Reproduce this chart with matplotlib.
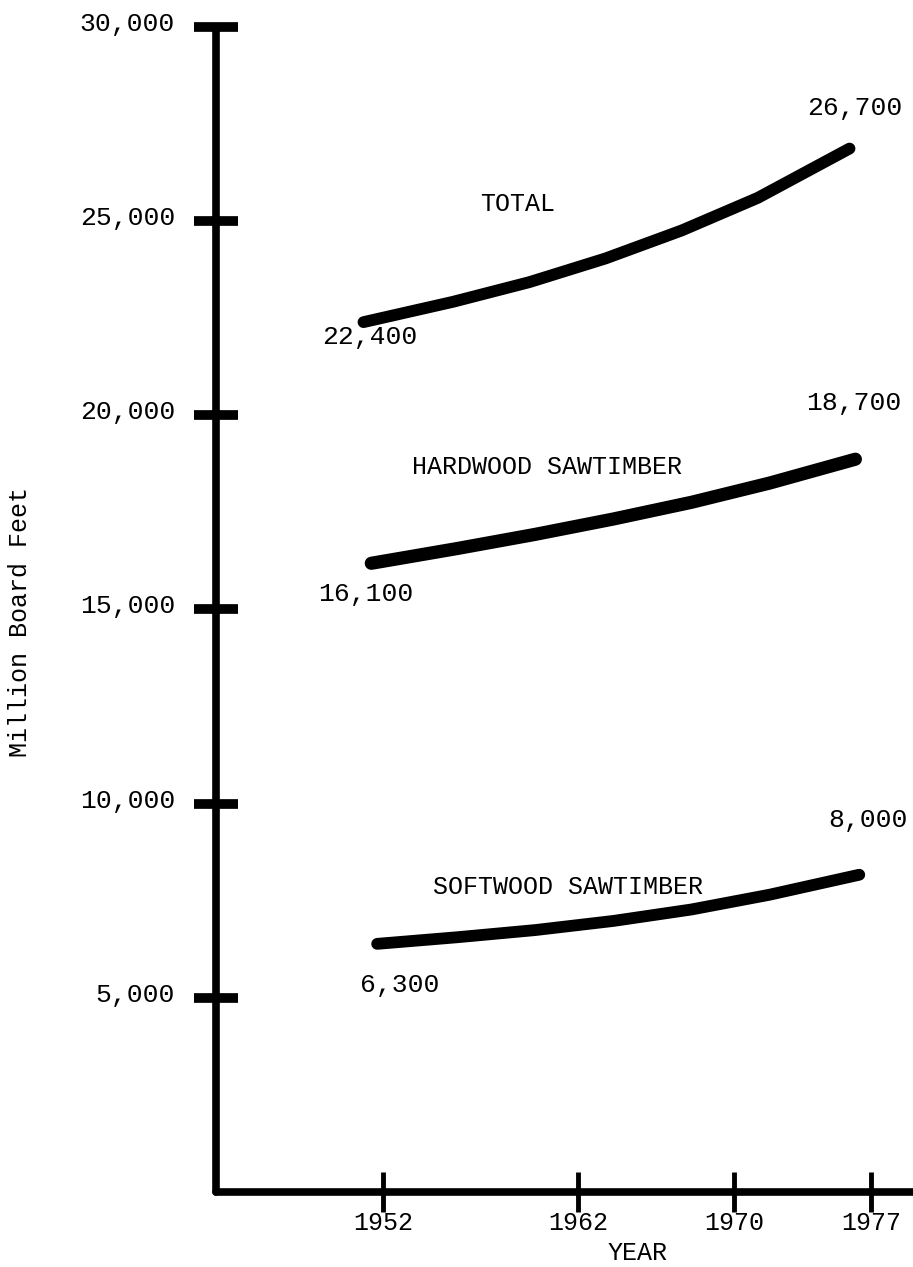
import matplotlib
matplotlib.use("Agg")
import matplotlib.pyplot as plt
from matplotlib.transforms import ScaledTranslation

# ---------------- data ----------------
tick_years = [1952, 1962, 1970, 1977]
y_ticks = [5000, 10000, 15000, 20000, 25000, 30000]

total_years = [1951.0, 1955.6, 1959.5, 1963.4, 1967.3, 1971.2, 1975.9]
total_vals = [22400, 22925, 23430, 24040, 24760, 25600, 26870]

hard_years = [1951.4, 1955.8, 1959.8, 1963.8, 1967.8, 1971.8, 1976.2]
hard_vals = [16190, 16570, 16935, 17330, 17760, 18255, 18870]

soft_years = [1951.7, 1955.8, 1959.8, 1963.8, 1967.8, 1971.8, 1976.4]
soft_vals = [6390, 6560, 6745, 6980, 7275, 7655, 8170]

series_names = ["TOTAL", "HARDWOOD SAWTIMBER", "SOFTWOOD SAWTIMBER"]
start_labels = [22400, 16100, 6300]
end_labels = [26700, 18700, 8000]

# ---------------- figure ----------------
W, H = 913, 1267
FONT = "Liberation Mono"
plt.rcParams["font.family"] = [FONT, "DejaVu Sans Mono"]

fig = plt.figure(figsize=(W / 100, H / 100), dpi=100)
fig.patch.set_facecolor("white")


def fx(px):
    return px / W


def fy(py):
    return 1 - py / H


ax_left, ax_bottom_px, ax_top_px = 216, 1192, 27
ax = fig.add_axes([fx(ax_left), fy(ax_bottom_px), 1 - fx(ax_left),
                   (ax_bottom_px - ax_top_px) / H])
ax.set_facecolor("white")

px_per_year = 19.52
ax.set_xlim(1952 - (383 - ax_left) / px_per_year, 1952 + (W - 383) / px_per_year)
ax.set_ylim(0, 30000)

for s in ["top", "right"]:
    ax.spines[s].set_visible(False)
for s in ["left", "bottom"]:
    ax.spines[s].set_linewidth(5.5)
    ax.spines[s].set_color("black")
    ax.spines[s].set_capstyle("round")

ax.set_yticks(y_ticks)
ax.set_yticklabels([f"{v:,}" for v in y_ticks])
ax.set_xticks(tick_years)
ax.set_xticklabels([str(y) for y in tick_years])

ax.tick_params(axis="y", direction="inout", length=31, width=7, pad=14,
               labelsize=19, colors="black")
ax.tick_params(axis="x", direction="inout", length=29, width=3.5, pad=-1,
               labelsize=18, colors="black")
for lab in ax.get_yticklabels():
    lab.set_transform(lab.get_transform() + ScaledTranslation(0, 4 / 72, fig.dpi_scale_trans))

line_kw = dict(color="black", solid_capstyle="round", solid_joinstyle="round")
ax.plot(total_years, total_vals, lw=8.5, **line_kw)
ax.plot(hard_years, hard_vals, lw=9.5, **line_kw)
ax.plot(soft_years, soft_vals, lw=8.5, **line_kw)

# series names
name_pos = [(518, 204), (547, 467), (568, 887)]
for name, (x, y) in zip(series_names, name_pos):
    fig.text(fx(x), fy(y), name, ha="center", va="center", fontsize=18)

# value labels
start_pos = [(370, 337), (366, 594), (400, 985)]
end_pos = [(855, 108), (854, 403), (868, 820)]
for v, (x, y) in zip(start_labels, start_pos):
    fig.text(fx(x), fy(y), f"{v:,}", ha="center", va="center", fontsize=19)
for v, (x, y) in zip(end_labels, end_pos):
    fig.text(fx(x), fy(y), f"{v:,}", ha="center", va="center", fontsize=19)

fig.text(fx(20), fy(622), "Million Board Feet", rotation=90, ha="center",
         va="center", fontsize=18)
fig.text(fx(638), fy(1253), "YEAR", ha="center", va="center", fontsize=18)

fig.savefig("out.png", dpi=100, facecolor="white")
